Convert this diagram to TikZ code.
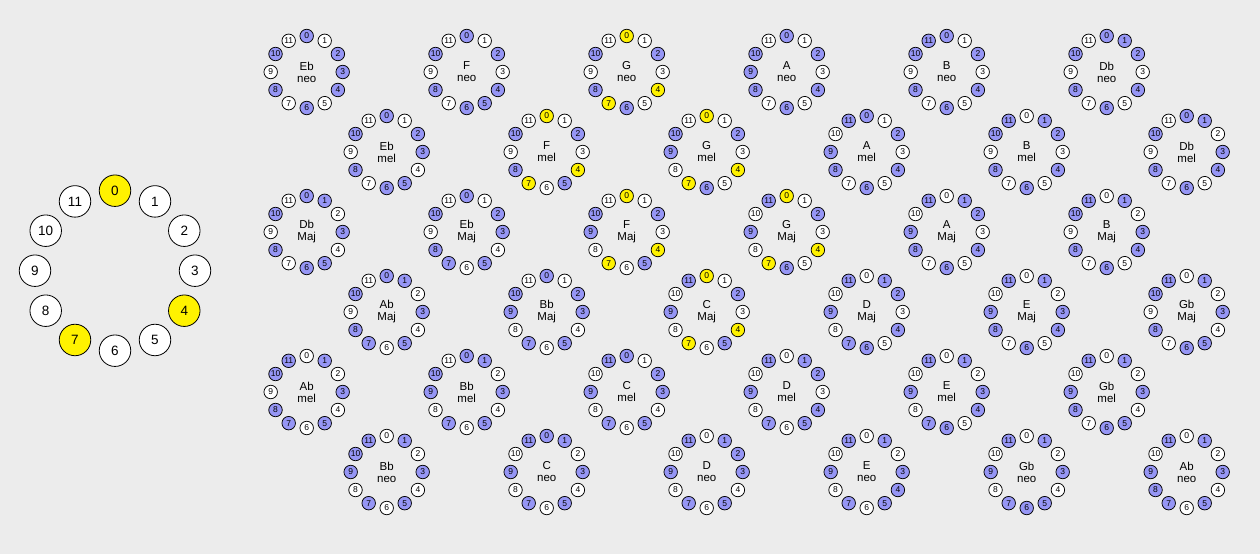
\documentclass[tikz,border=0pt]{standalone}
\usepackage{fontspec}
\setmainfont{Liberation Sans}
\usetikzlibrary{calc}
\definecolor{paper}{RGB}{236,236,236}
\definecolor{notein}{RGB}{150,150,245}
\def\scaleMaj{0,2,4,5,7,9,11}
\def\scalemel{0,2,3,5,7,9,11}
\def\scaleneo{0,1,3,5,7,9,11}
\tikzset{
  bignote/.style={circle,draw,line width=0.8pt,minimum size=31.5pt,inner sep=0pt,font=\fontsize{13.5}{13.5}\selectfont},
  smallnote/.style={circle,draw,line width=0.75pt,minimum size=13.5pt,inner sep=0pt,font=\fontsize{8.5}{8.5}\selectfont},
  clocklabel/.style={align=center,inner sep=0pt,font=\fontsize{11.5}{12}\selectfont}
}
% #1,#2 centre, #3 root, #4 scale, #5 root number, #6 holds the C triad (1/0)
\newcommand{\clockface}[6]{
  \coordinate (#3#4) at (#1,#2);
  \node[clocklabel] (#3#4-label) at (#3#4) {#3\\#4};
  \foreach \k in {0,...,11}{
    \pgfmathtruncatemacro{\stepno}{mod(\k-#5+12,12)}
    \edef\steps{\csname scale#4\endcsname}
    \gdef\notefill{white}
    \foreach \m in \steps {\ifnum\m=\stepno\relax\gdef\notefill{notein}\fi}
    \foreach \t in {0,4,7} {\ifnum\t=\k\relax\ifnum#6=1\relax\gdef\notefill{yellow}\fi\fi}
    \node[smallnote,fill=\notefill] (#3#4-\k) at ($(#3#4)+(90-30*\k:36)$) {\k};
  }
}
\begin{document}
\begin{tikzpicture}[x=1pt,y=1pt]
\fill[paper] (0,0) rectangle (1260,554);
\useasboundingbox (0,0) rectangle (1260,554);
\coordinate (ring) at (115,283.3);
\foreach \k in {0,...,11}{
  \gdef\notefill{white}
  \foreach \t in {0,4,7} {\ifnum\t=\k\relax\gdef\notefill{yellow}\fi}
  \node[bignote,fill=\notefill] (note\k) at ($(ring)+(90-30*\k:80)$) {\k};
}
\clockface{306.7}{482}{Eb}{neo}{3}{0}
\clockface{466.7}{482}{F}{neo}{5}{0}
\clockface{626.7}{482}{G}{neo}{7}{1}
\clockface{786.7}{482}{A}{neo}{9}{0}
\clockface{946.7}{482}{B}{neo}{11}{0}
\clockface{1106.7}{482}{Db}{neo}{1}{0}
\clockface{386.7}{402}{Eb}{mel}{3}{0}
\clockface{546.7}{402}{F}{mel}{5}{1}
\clockface{706.7}{402}{G}{mel}{7}{1}
\clockface{866.7}{402}{A}{mel}{9}{0}
\clockface{1026.7}{402}{B}{mel}{11}{0}
\clockface{1186.7}{402}{Db}{mel}{1}{0}
\clockface{306.7}{322}{Db}{Maj}{1}{0}
\clockface{466.7}{322}{Eb}{Maj}{3}{0}
\clockface{626.7}{322}{F}{Maj}{5}{1}
\clockface{786.7}{322}{G}{Maj}{7}{1}
\clockface{946.7}{322}{A}{Maj}{9}{0}
\clockface{1106.7}{322}{B}{Maj}{11}{0}
\clockface{386.7}{242}{Ab}{Maj}{8}{0}
\clockface{546.7}{242}{Bb}{Maj}{10}{0}
\clockface{706.7}{242}{C}{Maj}{0}{1}
\clockface{866.7}{242}{D}{Maj}{2}{0}
\clockface{1026.7}{242}{E}{Maj}{4}{0}
\clockface{1186.7}{242}{Gb}{Maj}{6}{0}
\clockface{306.7}{162}{Ab}{mel}{8}{0}
\clockface{466.7}{162}{Bb}{mel}{10}{0}
\clockface{626.7}{162}{C}{mel}{0}{0}
\clockface{786.7}{162}{D}{mel}{2}{0}
\clockface{946.7}{162}{E}{mel}{4}{0}
\clockface{1106.7}{162}{Gb}{mel}{6}{0}
\clockface{386.7}{82}{Bb}{neo}{10}{0}
\clockface{546.7}{82}{C}{neo}{0}{0}
\clockface{706.7}{82}{D}{neo}{2}{0}
\clockface{866.7}{82}{E}{neo}{4}{0}
\clockface{1026.7}{82}{Gb}{neo}{6}{0}
\clockface{1186.7}{82}{Ab}{neo}{8}{0}
\end{tikzpicture}
\end{document}
